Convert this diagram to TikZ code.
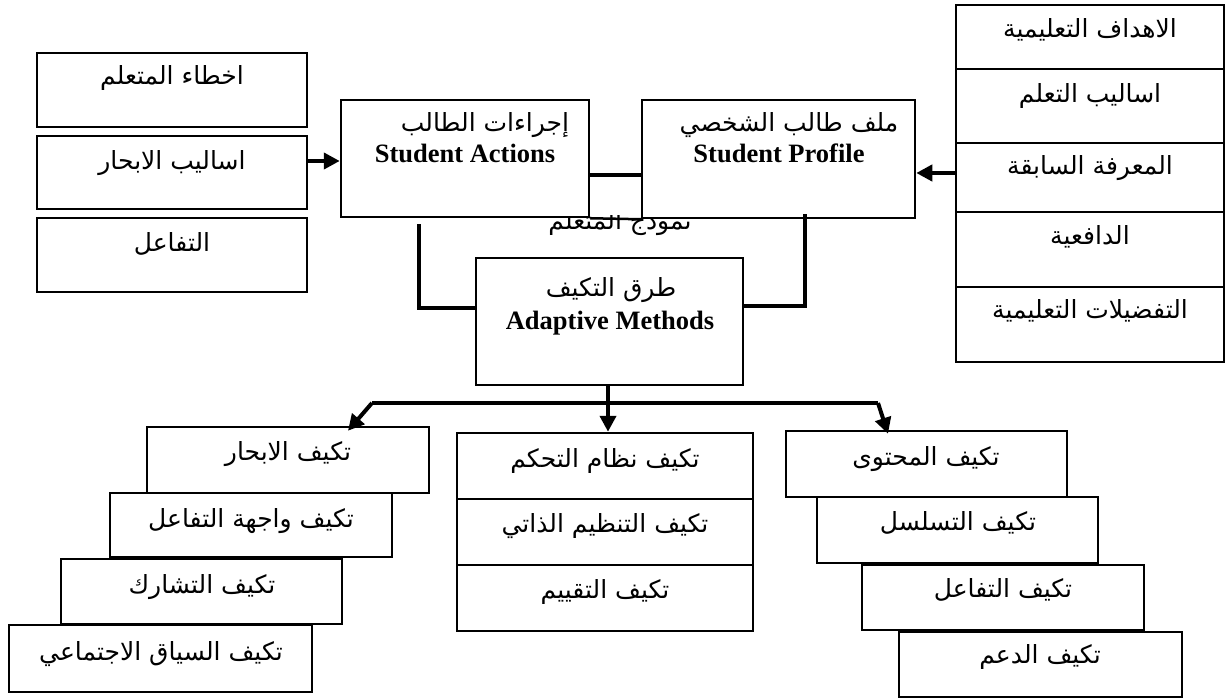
\documentclass[tikz,border=0pt]{standalone}
\usepackage{fontspec}
\setmainfont{Liberation Serif}
\newfontfamily\arabicfont[Script=Arabic]{DejaVu Sans}
\TeXXeTstate=1
\usetikzlibrary{arrows.meta,calc}

\tikzset{
  box/.style={draw, line width=2.5pt, fill=white, inner sep=0pt},
  ar/.style={font=\arabicfont\fontsize{25}{30}\selectfont, anchor=base, inner sep=0pt},
  en/.style={font=\bfseries\fontsize{26.5}{30}\selectfont, anchor=base, inner sep=0pt},
  conn/.style={line width=4pt},
  tip/.style={-{Triangle[length=16pt,width=16pt]}},
}

% box given by its corners (x1,y1) and (x2,y2)
\newcommand\rbox[5]{\node[box, minimum width={#4-#2}, minimum height={#5-#3}] (#1) at ({(#2+#4)/2},{(#3+#5)/2}) {};}

\begin{document}
\begin{tikzpicture}[x=1pt, y=-1pt]
\useasboundingbox (0,0) rectangle (1226,700);

% label of the learner model, partly covered by the two boxes above it
\begin{scope}
  \clip (530,216) rectangle (710,250);
  \node[ar] (lmodel) at (620,230) {\beginR نموذج المتعلم\endR};
\end{scope}

% learner inputs (left)
\rbox{L1}{37}{53}{307}{127}
\rbox{L2}{37}{136}{307}{209}
\rbox{L3}{37}{218}{307}{292}
\node[ar] (L1t) at (172,85) {\beginR اخطاء المتعلم\endR};
\node[ar] (L2t) at (172,170) {\beginR اساليب الابحار\endR};
\node[ar] (L3t) at (172,252) {\beginR التفاعل\endR};

% student actions / student profile
\rbox{SA}{341}{100}{589}{217}
\rbox{SP}{642}{100}{915}{218}
\node[ar] (SAa) at (485,132) {\beginR إجراءات الطالب\endR};
\node[en] (SAe) at (465,163) {Student Actions};
\node[ar] (SPa) at (789,132) {\beginR ملف طالب الشخصي\endR};
\node[en] (SPe) at (779,163) {Student Profile};

% adaptive methods
\rbox{AM}{476}{258}{743}{385}
\node[ar] (AMa) at (611,297) {\beginR طرق التكيف\endR};
\node[en] (AMe) at (610,330) {Adaptive Methods};

% profile components (right)
\rbox{R1}{956}{5}{1224}{69}
\rbox{R2}{956}{69}{1224}{143}
\rbox{R3}{956}{143}{1224}{212}
\rbox{R4}{956}{212}{1224}{287}
\rbox{R5}{956}{287}{1224}{362}
\node[ar] (R1t) at (1090,38) {\beginR الاهداف التعليمية\endR};
\node[ar] (R2t) at (1090,103) {\beginR اساليب التعلم\endR};
\node[ar] (R3t) at (1090,175) {\beginR المعرفة السابقة\endR};
\node[ar] (R4t) at (1090,245) {\beginR الدافعية\endR};
\node[ar] (R5t) at (1090,319) {\beginR التفضيلات التعليمية\endR};

% left staircase
\rbox{A}{147}{427}{429}{493}
\rbox{B}{110}{493}{392}{557}
\rbox{C}{61}{559}{342}{624}
\rbox{D}{9}{625}{312}{692}
\node[ar] (At) at (288,460) {\beginR تكيف الابحار\endR};
\node[ar] (Bt) at (251,527) {\beginR تكيف واجهة التفاعل\endR};
\node[ar] (Ct) at (202,593) {\beginR تكيف التشارك\endR};
\node[ar] (Dt) at (161,660) {\beginR تكيف السياق الاجتماعي\endR};

% middle stack
\rbox{M1}{457}{433}{753}{499}
\rbox{M2}{457}{499}{753}{565}
\rbox{M3}{457}{565}{753}{631}
\node[ar] (M1t) at (605,467) {\beginR تكيف نظام التحكم\endR};
\node[ar] (M2t) at (605,532) {\beginR تكيف التنظيم الذاتي\endR};
\node[ar] (M3t) at (605,598) {\beginR تكيف التقييم\endR};

% right staircase
\rbox{E}{786}{431}{1067}{497}
\rbox{F}{817}{497}{1098}{563}
\rbox{G}{862}{565}{1144}{630}
\rbox{H}{899}{632}{1182}{697}
\node[ar] (Et) at (926,465) {\beginR تكيف المحتوى\endR};
\node[ar] (Ft) at (958,530) {\beginR تكيف التسلسل\endR};
\node[ar] (Gt) at (1003,597) {\beginR تكيف التفاعل\endR};
\node[ar] (Ht) at (1040,663) {\beginR تكيف الدعم\endR};

% connectors
\draw[conn, tip] ([yshift=11.5]L2.east) -- ([yshift=11.5]L2.east -| SA.west);
\draw[conn] ([yshift=-16.5]SA.east) -- ([yshift=-16.5]SA.east -| SP.west);
\draw[line width=2.5pt] (SA.south east) -- (SP.south west);
\draw[conn, tip] ([yshift=4.5]R3.west) -- ([yshift=4.5]R3.west -| SP.east);
\draw[conn] ([xshift=-46, yshift=-6]SA.south) |- ([yshift=13.5]AM.west);
\draw[conn] ([xshift=26.5, yshift=5]SP.south) |- ([yshift=15.5]AM.east);
\draw[conn, tip] ([xshift=-1.5]AM.south) -- ([xshift=-1.5]AM.south |- M1.north);

\coordinate (busL) at (372,403);
\coordinate (busR) at (878,403);
\draw[conn] (busL) -- (busR);
\draw[conn, tip] (busL) -- ([xshift=60, yshift=-5]A.north);
\draw[conn, tip] (busR) -- ([xshift=-38.5, yshift=-4]E.north);
\end{tikzpicture}
\end{document}
